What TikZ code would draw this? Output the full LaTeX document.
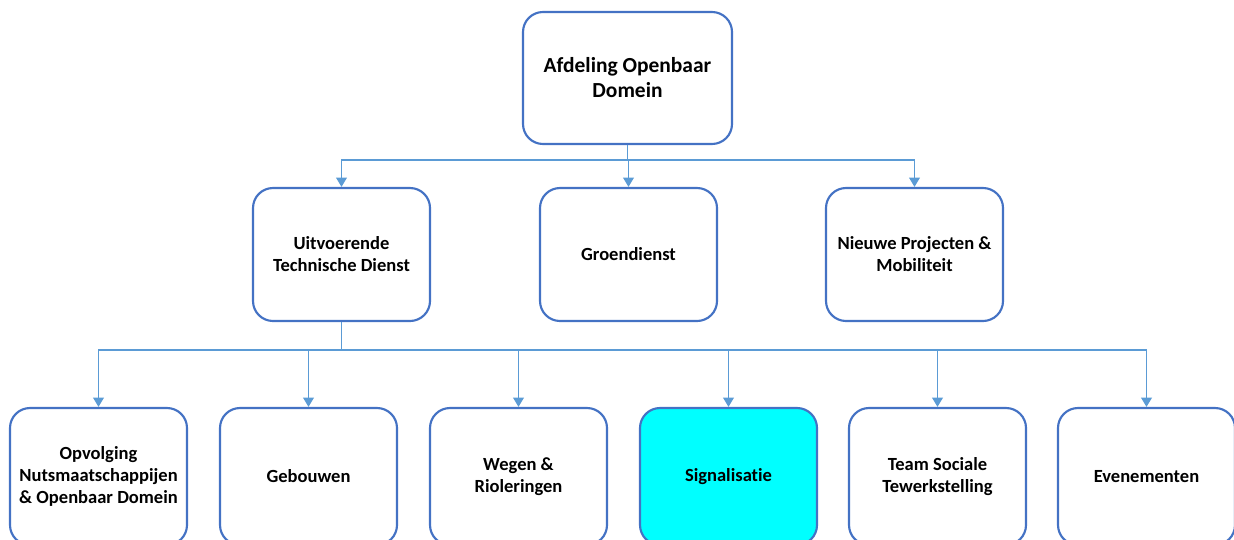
\documentclass[tikz,border=0pt]{standalone}
\usepackage{fontspec}
\setmainfont[Ligatures=CommonOff]{Carlito}
\usetikzlibrary{arrows.meta}
\definecolor{boxline}{RGB}{68,114,196}
\definecolor{connline}{RGB}{91,155,213}
\definecolor{cyanfill}{RGB}{0,255,255}
\begin{document}
\begin{tikzpicture}[x=0.75pt,y=-0.75pt,
  unit/.style={draw=boxline,line width=1.6pt,rounded corners=15pt,fill=white,
    minimum width=177*0.75pt,minimum height=133*0.75pt,align=center,inner sep=2pt,
    font=\bfseries\fontsize{13.9}{16.5}\selectfont},
  lowunit/.style={unit,minimum height=137*0.75pt},
  topunit/.style={unit,minimum width=209*0.75pt,minimum height=132*0.75pt,
    font=\bfseries\fontsize{16.1}{18.75}\selectfont},
  conn/.style={draw=connline,line width=1.3pt,-{Triangle[width=8pt,length=7pt]}}]
\useasboundingbox (0,0) rectangle (1234,539);
\node[topunit] (top) at (627.5,78) {Afdeling Openbaar\\Domein};
\node[unit] (uit) at (341.5,254.5) {Uitvoerende\\Technische Dienst};
\node[unit] (groen) at (628.5,254.5) {Groendienst};
\node[unit] (nieuw) at (914.5,254.5) {Nieuwe Projecten \&\\Mobiliteit};
\node[lowunit] (opv) at (98.5,476.5) {Opvolging\\Nutsmaatschappijen\\\& Openbaar Domein};
\node[lowunit] (geb) at (308.5,476.5) {Gebouwen};
\node[lowunit] (weg) at (518.5,476.5) {Wegen \&\\Rioleringen};
\node[lowunit,fill=cyanfill] (sig) at (728.5,476.5) {Signalisatie};
\node[lowunit] (team) at (937.5,476.5) {Team Sociale\\Tewerkstelling};
\node[lowunit] (even) at (1146.5,476.5) {Evenementen};
\coordinate (j1) at (627.5,160);
\coordinate (j2) at (341.5,350);
\draw[connline,line width=1.3pt] (top.south) -- (j1);
\foreach \c in {uit,groen,nieuw} \draw[conn] (j1) -| (\c.north);
\draw[connline,line width=1.3pt] (uit.south) -- (j2);
\foreach \c in {opv,geb,weg,sig,team,even} \draw[conn] (j2) -| (\c.north);
\end{tikzpicture}
\end{document}
